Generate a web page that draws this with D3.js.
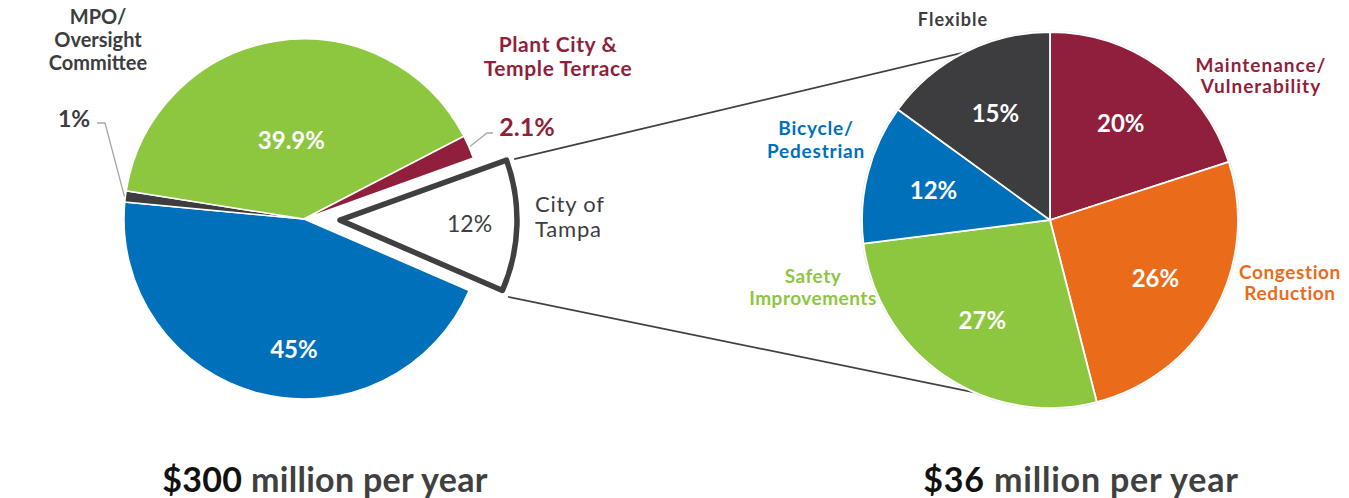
<!DOCTYPE html>
<html lang="en">
<head>
  <meta charset="UTF-8">
  <style type="text/css">
    body {margin:0; background:#fff;}
    svg {font-family: Lato, "Open Sans", sans-serif;}
    .pct {font-weight:bold; fill:#fff; text-anchor:middle;}
    .lbl {font-weight:bold; text-anchor:middle;}
    .cap {font-weight:bold; fill:#404040; text-anchor:middle;}
  </style>
  <title>Funding split</title>
</head>
<body>
  <svg id="chart" width="1349" height="498"></svg>

  <script src="https://d3js.org/d3.v7.min.js"></script>
  <script type="text/javascript">
    // left pie: $300 million per year
    var leftCats   = ["City of Tampa", "Hillsborough County", "MPO/Oversight Committee", "HART", "Plant City & Temple Terrace"];
    var leftVals   = [12, 45, 1, 39.9, 2.1];
    var leftLabels = ["12%", "45%", "1%", "39.9%", "2.1%"];
    var leftColors = ["#ffffff", "#0070bb", "#3d3d3f", "#8dc63f", "#8f1f3a"];

    // right pie: City of Tampa share, $36 million per year
    var rightCats   = ["Maintenance/Vulnerability", "Congestion Reduction", "Safety Improvements", "Bicycle/Pedestrian", "Flexible"];
    var rightVals   = [20, 26, 27, 12, 15];
    var rightLabels = ["20%", "26%", "27%", "12%", "15%"];
    var rightColors = ["#8f1f3a", "#ea6c1b", "#8dc63f", "#0070bb", "#3d3d3f"];

    var captions = [["$300", " million per year"], ["$36", " million per year"]];

    var svg = d3.select("#chart");
    var rad = Math.PI / 180;

    var L = {cx:304, cy:219, r:180, start:70.2 * rad, explode:36},
        R = {cx:1050, cy:220, r:188};

    var pieL = d3.pie().sort(null).value(d => d)
                 .startAngle(L.start).endAngle(L.start + 2 * Math.PI);
    var pieR = d3.pie().sort(null).value(d => d);

    var arcL = d3.arc().innerRadius(0).outerRadius(L.r);
    var arcR = d3.arc().innerRadius(0).outerRadius(R.r);

    var leftArcs  = pieL(leftVals),
        rightArcs = pieR(rightVals);

    function polar(a, r) { return [Math.sin(a) * r, -Math.cos(a) * r]; }

    // the exploded City of Tampa wedge
    var tampa = leftArcs[0],
        tMid  = (tampa.startAngle + tampa.endAngle) / 2,
        tOff  = polar(tMid, L.explode);

    // connector lines (drawn first, under the right pie)
    var pTop = polar(tampa.startAngle, L.r + 3),
        pBot = polar(tampa.endAngle, L.r + 3);
    var conn = [
      [[L.cx + tOff[0] + pTop[0] + 2, L.cy + tOff[1] + pTop[1] + 1], [R.cx, R.cy - R.r]],
      [[L.cx + tOff[0] + pBot[0], L.cy + tOff[1] + pBot[1] + 4], [R.cx, R.cy + R.r]]
    ];
    svg.selectAll(".conn").data(conn).enter().append("line")
      .attr("class", "conn")
      .attr("x1", d => d[0][0]).attr("y1", d => d[0][1])
      .attr("x2", d => d[1][0]).attr("y2", d => d[1][1])
      .style("stroke", "#404040").style("stroke-width", 1.6);

    // left pie
    var gL = svg.append("g").attr("transform", `translate(${L.cx},${L.cy})`);
    gL.selectAll(".slice").data(leftArcs.slice(1)).enter().append("path")
      .attr("class", "slice")
      .attr("d", arcL)
      .style("fill", (d, i) => leftColors[i + 1])
      .style("stroke", "#fff").style("stroke-width", 1.5);

    var gT = gL.append("g").attr("transform", `translate(${tOff[0]},${tOff[1]})`);
    gT.append("path")
      .attr("d", d3.arc().innerRadius(0).outerRadius(L.r - 3)(tampa))
      .style("fill", "#fff").style("stroke", "#404040")
      .style("stroke-width", 5.5).style("stroke-linejoin", "round");
    var tp = polar(tMid, L.r * 0.72);
    gT.append("text")
      .attr("x", tp[0]).attr("y", tp[1] + 8)
      .style("text-anchor", "middle").style("font-size", "23px").style("fill", "#404040")
      .text(leftLabels[0]);

    // inner percent labels on the left pie
    var leftLabelR = {1: 0.73, 3: 0.44};
    Object.keys(leftLabelR).forEach(function(k) {
      var a = leftArcs[k], m = (a.startAngle + a.endAngle) / 2,
          p = polar(m, L.r * leftLabelR[k]);
      if (k == 1) p = polar(m - 10 * rad, L.r * leftLabelR[k]);
      gL.append("text").attr("class", "pct")
        .attr("x", p[0]).attr("y", p[1] + 8)
        .style("font-size", "24px")
        .text(leftLabels[k]);
    });

    // leader lines for the small slices
    function leader(a, pts) {
      var m = (a.startAngle + a.endAngle) / 2, o = polar(m, L.r + 1);
      var line = d3.line();
      svg.append("path")
        .attr("d", line([[L.cx + o[0], L.cy + o[1]]].concat(pts)))
        .style("fill", "none").style("stroke", "#a6a6a6").style("stroke-width", 1.3);
    }
    leader(leftArcs[2], [[105, 123], [97, 123]]);
    leader(leftArcs[4], [[487, 133], [493, 133]]);

    svg.append("text").attr("class", "lbl")
      .attr("x", 74).attr("y", 127).style("font-size", "23px").style("fill", "#3d3d3f")
      .text(leftLabels[2]);
    svg.append("text").attr("class", "lbl")
      .attr("x", 527).attr("y", 136).style("font-size", "25px").style("fill", "#8f1f3a")
      .text(leftLabels[4]);

    // outside category names
    function multi(lines, x, y, dy, size, color, opts) {
      opts = opts || {};
      var t = svg.append("text").attr("class", "lbl")
        .style("font-size", size + "px").style("fill", color)
        .style("font-weight", opts.weight || "bold")
        .style("letter-spacing", (opts.ls || 0) + "px");
      if (opts.anchor) t.style("text-anchor", opts.anchor);
      lines.forEach(function(s, i) {
        t.append("tspan").attr("x", x).attr("y", y + i * dy).text(s);
      });
      return t;
    }
    multi(["MPO/", "Oversight", "Committee"], 98, 24, 23, 20, "#3d3d3f");
    multi(["Plant City &", "Temple Terrace"], 558, 52, 24, 21, "#8f1f3a", {ls:0.6});
    multi(["City of", "Tampa"], 535, 212, 25, 22, "#3d3d3f", {weight:"normal", anchor:"start", ls:0.8});

    // right pie
    var gR = svg.append("g").attr("transform", `translate(${R.cx},${R.cy})`);
    gR.append("circle").attr("r", R.r + 1).style("fill", "none")
      .style("stroke", "#e6e6e6").style("stroke-width", 1);
    gR.selectAll(".slice").data(rightArcs).enter().append("path")
      .attr("class", "slice")
      .attr("d", arcR)
      .style("fill", (d, i) => rightColors[i])
      .style("stroke", "#fff").style("stroke-width", 1.8);

    var labelArc = d3.arc().innerRadius(R.r * 0.64).outerRadius(R.r * 0.64);
    gR.selectAll(".pct").data(rightArcs).enter().append("text")
      .attr("class", "pct")
      .attr("transform", d => { var c = labelArc.centroid(d); return `translate(${c[0]},${c[1] + 9})`; })
      .style("font-size", "24px")
      .text((d, i) => rightLabels[i]);

    multi(["Flexible"], 953, 26, 21, 18, "#3d3d3f", {ls:1});
    multi(["Maintenance/", "Vulnerability"], 1261, 72, 21, 19, "#8f1f3a", {ls:1});
    multi(["Bicycle/", "Pedestrian"], 816, 135, 23, 19, "#0070bb", {ls:0.8});
    multi(["Safety", "Improvements"], 813, 283, 22, 19, "#8dc63f", {ls:0.5});
    multi(["Congestion", "Reduction"], 1290, 279, 21, 19, "#ea6c1b", {ls:0.6});

    // captions
    var capX = [325, 1081], capLs = [0.3, 0.8];
    captions.forEach(function(c, i) {
      var t = svg.append("text").attr("class", "cap")
        .attr("x", capX[i]).attr("y", 492).style("font-size", "34px")
        .style("letter-spacing", capLs[i] + "px");
      t.append("tspan").style("fill", "#111").text(c[0]);
      t.append("tspan").text(c[1]);
    });
  </script>
</body>
</html>
